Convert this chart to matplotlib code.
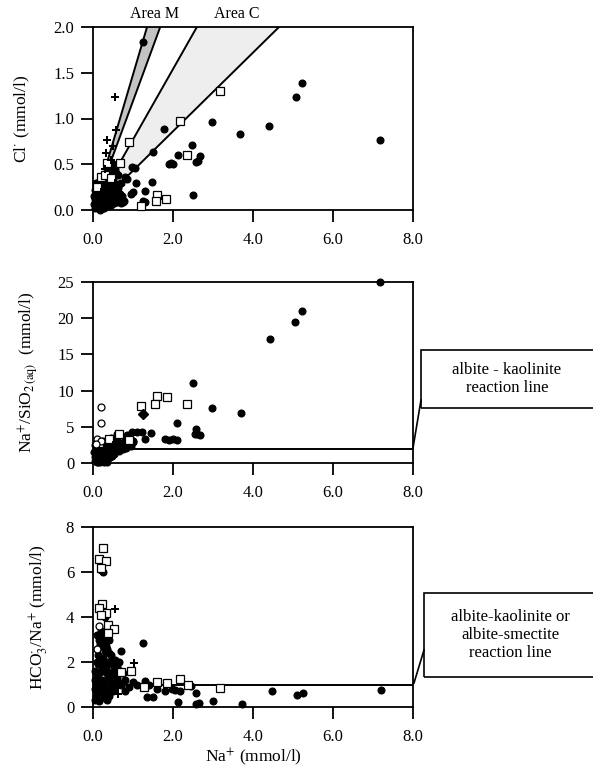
import numpy as np
import matplotlib
matplotlib.use('Agg')
import matplotlib.pyplot as plt
from matplotlib.patches import Rectangle
from matplotlib.lines import Line2D

plt.rcParams['font.family'] = ['Liberation Serif', 'DejaVu Serif']
plt.rcParams['mathtext.fontset'] = 'stix'

# --- Cl- vs Na+ ---
cl_dot_x = [1.25, 5.23, 5.07, 2.98, 4.41, 3.68, 7.18, 1.78, 2.47, 2.68, 2.58, 2.62, 2.49, 2.13, 2.0, 1.9, 1.95,
            1.49, 1.05, 0.97, 0.84, 1.07, 1.47, 1.0, 0.95, 1.3, 1.26, 1.3, 0.8, 0.7, 0.65,
            0.05, 0.08, 0.1, 0.12, 0.15, 0.18, 0.2, 0.22, 0.25, 0.28, 0.3, 0.32, 0.35, 0.38, 0.4, 0.42, 0.45,
            0.48, 0.5, 0.52, 0.55, 0.58, 0.6, 0.62, 0.65, 0.08, 0.12, 0.15, 0.05, 0.1, 0.2, 0.25, 0.3, 0.35,
            0.4, 0.45, 0.28, 0.18, 0.55, 0.5, 0.4, 0.7, 0.75, 0.68, 0.13, 0.03, 0.22, 0.33,
            0.02, 0.06, 0.1, 0.14, 0.17, 0.2, 0.24, 0.27, 0.31, 0.34, 0.37, 0.43, 0.47, 0.53, 0.57, 0.6,
            0.07, 0.11, 0.16, 0.21, 0.26, 0.29, 0.36, 0.41, 0.5, 0.56, 0.63, 0.72, 0.78, 0.45, 0.38]
cl_dot_y = [1.84, 1.39, 1.24, 0.96, 0.92, 0.83, 0.77, 0.88, 0.71, 0.59, 0.52, 0.54, 0.16, 0.60, 0.50, 0.50, 0.51,
            0.63, 0.46, 0.47, 0.34, 0.30, 0.31, 0.20, 0.18, 0.21, 0.10, 0.09, 0.36, 0.30, 0.28,
            0.02, 0.05, 0.10, 0.03, 0.08, 0.12, 0.05, 0.15, 0.10, 0.20, 0.06, 0.12, 0.25, 0.08, 0.18, 0.30, 0.10,
            0.22, 0.35, 0.08, 0.15, 0.28, 0.09, 0.38, 0.10, 0.20, 0.25, 0.18, 0.12, 0.30, 0.22, 0.30, 0.35, 0.40,
            0.45, 0.42, 0.02, 0.00, 0.45, 0.50, 0.38, 0.08, 0.09, 0.18, 0.16, 0.07, 0.08, 0.18,
            0.15, 0.22, 0.18, 0.06, 0.26, 0.32, 0.02, 0.14, 0.24, 0.05, 0.32, 0.14, 0.28, 0.20, 0.40, 0.16,
            0.30, 0.07, 0.02, 0.11, 0.05, 0.28, 0.12, 0.06, 0.12, 0.22, 0.24, 0.15, 0.10, 0.05, 0.26]
cl_plus_x = [0.55, 0.34, 0.57, 0.33, 0.45, 0.30, 0.50, 0.20, 0.35, 0.15, 0.55]
cl_plus_y = [1.24, 0.77, 0.87, 0.62, 0.55, 0.45, 0.70, 0.20, 0.30, 0.10, 0.30]
cl_sq_x = [3.18, 2.17, 0.91, 2.36, 1.59, 1.58, 1.82, 1.19, 0.19, 0.36, 0.67, 0.30, 0.10, 0.45]
cl_sq_y = [1.30, 0.97, 0.74, 0.60, 0.16, 0.10, 0.12, 0.04, 0.36, 0.51, 0.51, 0.38, 0.25, 0.35]

# Area M / Area C boundary slopes (Cl/Na)
area_m = [1.48, 1.19]
area_c = [0.77, 0.43]

# --- Na+/SiO2 vs Na+ ---
si_dot_x = [7.18, 5.22, 5.05, 4.42, 2.5, 2.98, 3.7, 2.1, 2.57, 2.6, 2.67, 2.55, 1.45, 1.23, 1.3, 1.8, 1.9, 2.0, 2.1,
            0.98, 1.1, 0.6, 0.85, 0.9, 1.0,
            0.05, 0.1, 0.12, 0.15, 0.18, 0.2, 0.22, 0.25, 0.28, 0.3, 0.32, 0.35, 0.38, 0.4, 0.42, 0.45, 0.5, 0.52,
            0.55, 0.6, 0.65, 0.7, 0.75, 0.8, 0.85, 0.9, 0.95, 1.0, 0.08, 0.1, 0.14, 0.2, 0.25, 0.3, 0.45, 0.6,
            0.02, 0.05, 0.35, 0.28,
            0.04, 0.07, 0.11, 0.13, 0.17, 0.21, 0.24, 0.27, 0.33, 0.37, 0.41, 0.48, 0.56, 0.62, 0.68, 0.73,
            0.78, 0.83, 0.93, 0.15, 0.19, 0.23, 0.31, 0.39, 0.47]
si_dot_y = [25.0, 21.0, 19.5, 17.1, 11.1, 7.55, 6.9, 5.5, 4.7, 4.0, 3.9, 4.0, 4.2, 4.3, 3.3, 3.3, 3.2, 3.25, 3.2,
            4.3, 4.3, 4.0, 3.8, 3.0, 2.9,
            0.3, 1.0, 0.5, 1.8, 0.2, 1.2, 2.5, 0.8, 1.6, 0.4, 2.2, 1.0, 3.0, 1.5, 0.8, 2.4, 1.8, 1.2,
            3.2, 2.2, 1.6, 2.8, 2.0, 2.4, 3.2, 2.6, 2.3, 3.0, 2.0, 0.1, 2.8, 0.6, 3.0, 2.0, 3.4, 3.0,
            1.5, 2.5, 0.2, 0.1,
            0.8, 0.4, 1.5, 0.1, 1.0, 0.3, 1.4, 0.5, 1.2, 0.7, 1.9, 1.3, 1.9, 2.6, 2.4, 2.2,
            2.9, 2.1, 3.5, 0.9, 2.2, 1.9, 0.9, 2.6, 0.9]
si_plus_x = [0.3, 0.5, 0.2]
si_plus_y = [1.5, 2.5, 1.0]
si_dia_x = [1.25]
si_dia_y = [6.7]
si_sq_x = [1.6, 1.84, 1.19, 1.55, 2.36, 0.9, 0.65, 0.4, 0.15]
si_sq_y = [9.3, 9.1, 7.9, 8.2, 8.1, 3.2, 4.0, 3.3, 2.8]
si_oc_x = [0.19, 0.2, 0.1, 0.2, 0.08]
si_oc_y = [7.7, 5.5, 3.3, 3.0, 2.6]

# --- HCO3-/Na+ vs Na+ ---
hc_dot_x = [1.24, 0.71, 2.58, 2.65, 2.58, 3.0, 3.73, 4.47, 5.1, 5.25, 7.19, 2.13, 1.51, 1.34, 1.8, 1.97, 2.17,
            2.05, 2.45, 1.0, 1.1, 1.3, 0.9, 0.8, 1.4, 1.6, 0.25, 0.2, 0.22, 0.3,
            0.05, 0.08, 0.1, 0.12, 0.15, 0.18, 0.2, 0.22, 0.25, 0.28, 0.3, 0.32, 0.35, 0.38, 0.4, 0.42, 0.45,
            0.5, 0.55, 0.6, 0.65, 0.7, 0.75, 0.8, 0.06, 0.1, 0.14, 0.2, 0.25, 0.3, 0.35, 0.45, 0.5, 0.6, 0.05,
            0.15, 0.12, 0.28, 0.4, 0.55,
            0.04, 0.07, 0.09, 0.13, 0.16, 0.19, 0.23, 0.26, 0.29, 0.33, 0.36, 0.39, 0.43, 0.47, 0.52, 0.58,
            0.62, 0.67, 0.11, 0.17, 0.21, 0.27, 0.31, 0.37, 0.24, 0.18]
hc_dot_y = [2.86, 2.5, 0.61, 0.2, 0.15, 0.28, 0.13, 0.73, 0.53, 0.62, 0.76, 0.24, 0.46, 0.44, 0.7, 0.8, 0.72,
            0.75, 0.95, 1.1, 1.0, 1.15, 0.9, 1.2, 1.0, 0.8, 6.0, 6.1, 4.3, 4.0,
            0.3, 1.0, 2.0, 0.6, 1.5, 2.8, 0.4, 1.2, 2.2, 3.2, 0.8, 1.8, 2.6, 1.4, 0.5, 2.0, 1.1,
            1.6, 0.9, 1.3, 2.0, 1.0, 1.5, 0.7, 1.6, 2.6, 3.0, 3.4, 1.6, 2.5, 0.3, 2.3, 0.7, 1.8, 0.8,
            0.25, 2.3, 0.6, 3.0, 2.1,
            1.2, 0.5, 1.4, 1.9, 0.9, 2.2, 1.7, 2.9, 1.1, 2.7, 1.5, 2.4, 0.8, 1.9, 1.2, 1.5,
            1.1, 1.6, 3.2, 2.0, 2.7, 1.9, 3.1, 2.0, 0.9, 0.6]
hc_plus_x = [0.56, 1.02, 0.63, 0.3, 0.2, 0.45]
hc_plus_y = [4.34, 1.94, 0.58, 2.0, 1.0, 1.4]
hc_sq_x = [0.26, 0.14, 0.33, 0.2, 0.22, 0.33, 0.37, 0.53, 0.37, 0.94, 0.71, 1.61, 1.84, 2.17, 2.38, 3.18, 1.27,
           0.15, 0.2]
hc_sq_y = [7.05, 6.6, 6.5, 6.2, 4.6, 4.2, 3.64, 3.45, 3.3, 1.6, 1.55, 1.13, 1.05, 1.23, 1.0, 0.83, 0.9,
           4.4, 4.1]
hc_oc_x = [0.1, 0.15]
hc_oc_y = [2.6, 3.6]

reaction_si = 2.0
reaction_hc = 1.0

W, H = 593, 769


def px(x, y):
    # pixel position -> figure fraction
    return x / W, 1 - y / H


def style_axes(ax, yticks, ylabels, ylabel, lpad):
    ax.set_xlim(0, 8)
    ax.set_xticks([0, 2, 4, 6, 8])
    ax.set_xticklabels(['0.0', '2.0', '4.0', '6.0', '8.0'])
    ax.set_ylim(yticks[0], yticks[-1])
    ax.set_yticks(yticks)
    ax.set_yticklabels(ylabels)
    ax.tick_params(direction='out', length=8.5, width=1.3, labelsize=12, pad=5)
    ax.tick_params(axis='x', pad=7)
    for s in ax.spines.values():
        s.set_linewidth(1.3)
    ax.set_ylabel(ylabel, fontsize=12.5, labelpad=lpad)


def scatter(ax, dx, dy, px_, py_, sx, sy, ox=None, oy=None, ddx=None, ddy=None):
    ax.plot(dx, dy, 'o', color='black', ms=4.8, ls='none', zorder=3, clip_on=False)
    ax.plot(sx, sy, 's', mfc='white', mec='black', mew=0.9, ms=5.2, ls='none', zorder=4, clip_on=False)
    ax.plot(px_, py_, 'P', color='black', ms=5.5, mew=0, ls='none', zorder=4, clip_on=False)
    if ox is not None:
        ax.plot(ox, oy, 'o', mfc='white', mec='black', mew=0.9, ms=5.0, ls='none', zorder=4)
    if ddx is not None:
        ax.plot(ddx, ddy, 'D', color='black', ms=5.5, ls='none', zorder=4)


fig = plt.figure(figsize=(W / 100, H / 100), dpi=100)

x0, x1 = px(93, 0)[0], px(413, 0)[0]
ax1 = fig.add_axes([x0, px(0, 210)[1], x1 - x0, px(0, 27)[1] - px(0, 210)[1]])
ax2 = fig.add_axes([x0, px(0, 463)[1], x1 - x0, px(0, 282)[1] - px(0, 463)[1]])
ax3 = fig.add_axes([x0, px(0, 707)[1], x1 - x0, px(0, 527)[1] - px(0, 707)[1]])

# top panel: shaded areas between ratio lines
for slopes, fc in [(area_m, '#c4c4c4'), (area_c, '#eeeeee')]:
    ax1.fill([0, 2 / slopes[0], 2 / slopes[1]], [0, 2, 2], color=fc, lw=0, zorder=1)
    for m in slopes:
        ax1.plot([0, 2 / m], [0, 2], color='black', lw=1.4, zorder=2)
scatter(ax1, cl_dot_x, cl_dot_y, cl_plus_x, cl_plus_y, cl_sq_x, cl_sq_y)
style_axes(ax1, [0, 0.5, 1.0, 1.5, 2.0], ['0.0', '0.5', '1.0', '1.5', '2.0'], r'Cl$^{\cdot}$ (mmol/l)', 15)
ax1.text(1.55, 2.06, 'Area M', ha='center', va='bottom', fontsize=11.5)
ax1.text(3.6, 2.06, 'Area C', ha='center', va='bottom', fontsize=11.5)

# middle panel
ax2.axhline(reaction_si, color='black', lw=1.4, zorder=2)
scatter(ax2, si_dot_x, si_dot_y, si_plus_x, si_plus_y, si_sq_x, si_sq_y, si_oc_x, si_oc_y, si_dia_x, si_dia_y)
style_axes(ax2, [0, 5, 10, 15, 20, 25], ['0', '5', '10', '15', '20', '25'],
           r'Na$^{+}$/SiO$_{2\,(\mathrm{aq})}$  (mmol/l)', 12)

# bottom panel
ax3.axhline(reaction_hc, color='black', lw=1.4, zorder=2)
scatter(ax3, hc_dot_x, hc_dot_y, hc_plus_x, hc_plus_y, hc_sq_x, hc_sq_y, hc_oc_x, hc_oc_y)
style_axes(ax3, [0, 2, 4, 6, 8], ['0', '2', '4', '6', '8'], r'HCO$_3^{\cdot}$/Na$^{+}$ (mmol/l)', 11)
ax3.set_xlabel(r'Na$^{+}$ (mmol/l)', fontsize=12.5, labelpad=1)

# callout boxes for the reaction lines
for (bx, by, bw, bh), lines, (ax, ay), (cx, cy) in [
    ((421, 350, 175, 58), 'albite - kaolinite\nreaction line', (413, 448), (421, 400)),
    ((424, 593, 172, 84), 'albite-kaolinite or\nalbite-smectite\nreaction line', (414, 683), (424, 650)),
]:
    fig.add_artist(Rectangle(px(bx, by + bh), bw / W, bh / H, transform=fig.transFigure,
                             fill=False, lw=1.2, ec='black'))
    fig.text(*px(bx + 86, by + bh / 2), lines, ha='center', va='center', fontsize=12, linespacing=1.15)
    p0, p1 = px(ax, ay), px(cx, cy)
    fig.add_artist(Line2D([p0[0], p1[0]], [p0[1], p1[1]], transform=fig.transFigure, color='black', lw=1.2))

fig.savefig('out.png', dpi=100)
